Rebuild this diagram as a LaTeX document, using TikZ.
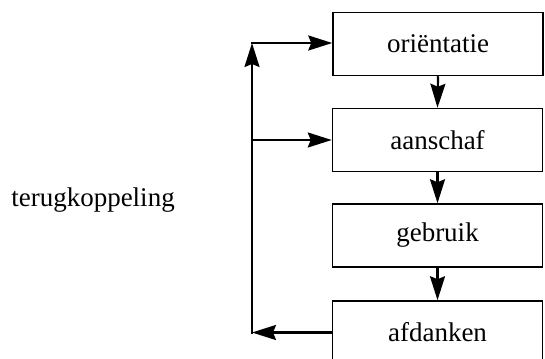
\documentclass[tikz,border=0pt]{standalone}
\usepackage{fontspec}
\setmainfont{Liberation Serif}
\usetikzlibrary{arrows.meta}
\begin{document}
\begin{tikzpicture}[x=1pt,y=1pt,
  box/.style={draw, line width=1.5pt, minimum width=210pt, minimum height=63pt, inner sep=0pt, font=\fontsize{27}{31}\selectfont},
  arr/.style={line width=2.2pt, -{Stealth[length=24pt,width=15pt,inset=3pt]}},
  lbl/.style={font=\fontsize{27}{31}\selectfont}]
\useasboundingbox (0,0) rectangle (545,-358);
\clip (0,0) rectangle (545,-358);
\node[box] (o) at (438,-44) {oriëntatie};
\node[box] (a) at (437.5,-140) {aanschaf};
\node[box] (g) at (437.5,-235.5) {gebruik};
\node[box] (f) at (437.5,-332.5) {afdanken};
\node[lbl] (t) at (93,-200) {terugkoppeling};
\coordinate (c1) at (252,-332.5);
\coordinate (c2) at (252,-43);
\coordinate (c3) at (252,-140);
\draw[arr] (o.south) -- (a.north);
\draw[arr] (a.south) -- (g.north);
\draw[arr] (g.south) -- (f.north);
\draw[arr] (f.west) -- (c1);
\draw[arr, shorten <=-1.1pt] (c1) -- (c2);
\draw[arr, shorten <=-1.1pt] (c2) -- (o.west |- c2);
\draw[arr, shorten <=-1.1pt] (c3) -- (a.west);
\end{tikzpicture}
\end{document}
